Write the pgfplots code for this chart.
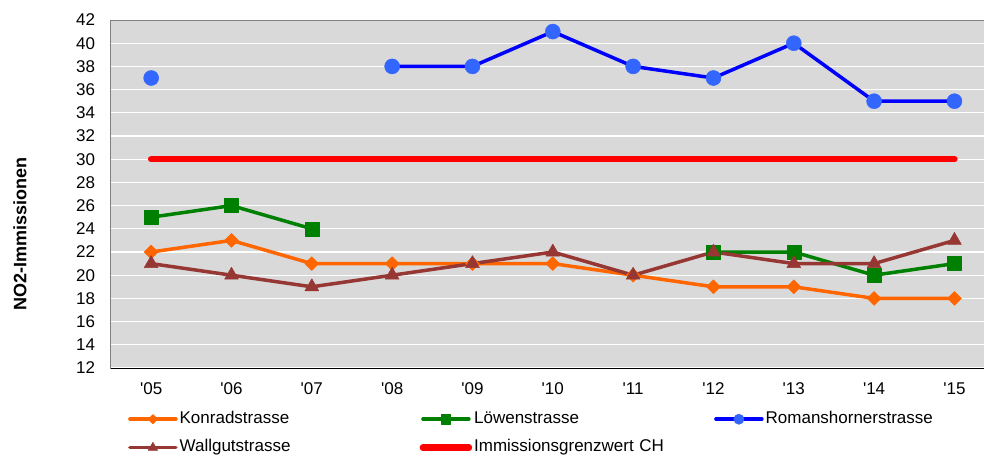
\documentclass[border=0pt]{standalone}
\usepackage{fontspec}
\setmainfont{Liberation Sans}[Ligatures=TeXOff]
\usepackage{pgfplots}
\pgfplotsset{compat=1.18}
\definecolor{konrad}{RGB}{255,102,0}
\definecolor{loewen}{RGB}{0,128,0}
\definecolor{roman}{RGB}{0,0,255}
\definecolor{romanmark}{RGB}{51,102,255}
\definecolor{wall}{RGB}{150,55,52}
\definecolor{grenz}{RGB}{255,0,0}
\definecolor{bg}{RGB}{217,217,217}
\begin{document}
\begin{tikzpicture}
\useasboundingbox (-111pt,-91pt) rectangle (873pt,368pt);
\begin{axis}[
  scale only axis, width=883.6pt, height=348pt,
  xmin=-0.5, xmax=10.5, ymin=12, ymax=42,
  xtick={0,...,10},
  xticklabels={'05,'06,'07,'08,'09,'10,'11,'12,'13,'14,'15},
  ytick={12,14,...,42},
  major tick length=0pt,
  /pgf/number format/assume math mode=true,
  tick label style={font=\fontsize{17}{20}\selectfont},
  yticklabel style={xshift=-12.5pt},
  xticklabel style={yshift=-11pt},
  ymajorgrids, grid style={white, line width=1.2pt},
  axis background/.style={fill=bg},
  axis line style={gray, line width=1pt},
  after end axis/.code={\draw[black, line width=1pt] (rel axis cs:0,0) -- (rel axis cs:1,0);},
  ylabel={NO2-Immissionen},
  every axis y label/.style={at={(axis description cs:-0.103,0.385)}, rotate=90, anchor=center, font=\fontsize{18}{21}\selectfont\bfseries},
  unbounded coords=jump,
  legend image code/.code={\draw[mark repeat=2,mark phase=2,#1,every mark/.append style={scale=0.68}] plot coordinates {(0pt,0pt)(23pt,0pt)(46pt,0pt)};},
  legend cell align=left,
  legend style={draw=none, fill=none, inner sep=0pt, at={(0.0192,-0.1236)}, anchor=north west,
    legend columns=3, row sep=12.5pt,
    nodes={text width=238pt, text height=12pt, text depth=4pt, inner ysep=0pt, align=left, font=\fontsize{17}{20}\selectfont}},
  every axis plot/.append style={line join=round, line cap=round},
]
\addplot[konrad, line width=3.5pt, mark=square*, mark size=4.9pt, mark options={solid, rotate=45, line width=0.5pt, fill=konrad}]
  coordinates {(0,22)(1,23)(2,21)(3,21)(4,21)(5,21)(6,20)(7,19)(8,19)(9,18)(10,18)};
\addlegendentry{Konradstrasse}
\addplot[loewen, line width=3.5pt, mark=square*, mark size=7pt, mark options={solid, line width=0.5pt, fill=loewen}]
  coordinates {(0,25)(1,26)(2,24)(3,nan)(4,nan)(5,nan)(6,nan)(7,22)(8,22)(9,20)(10,21)};
\addlegendentry{Löwenstrasse}
\addplot[roman, line width=3.5pt, mark=*, mark size=7.5pt, mark options={solid, line width=0.5pt, draw=romanmark, fill=romanmark}]
  coordinates {(0,37)(1,nan)(2,nan)(3,38)(4,38)(5,41)(6,38)(7,37)(8,40)(9,35)(10,35)};
\addlegendentry{Romanshornerstrasse}
\addplot[wall, line width=3.5pt, mark=triangle*, mark size=8pt, mark options={solid, line width=0.5pt, fill=wall}]
  coordinates {(0,21)(1,20)(2,19)(3,20)(4,21)(5,22)(6,20)(7,22)(8,21)(9,21)(10,23)};
\addlegendentry{Wallgutstrasse}
\addplot[grenz, line width=6.5pt, no marks]
  coordinates {(0,30)(1,30)(2,30)(3,30)(4,30)(5,30)(6,30)(7,30)(8,30)(9,30)(10,30)};
\addlegendentry{Immissionsgrenzwert CH}
\end{axis}
\end{tikzpicture}
\end{document}
